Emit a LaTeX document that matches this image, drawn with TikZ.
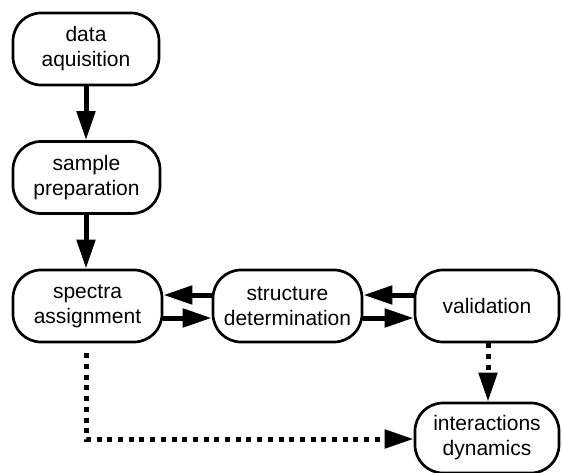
\documentclass[tikz,border=0pt]{standalone}
\usepackage{fontspec}
\setmainfont{Liberation Sans}
\usetikzlibrary{arrows.meta}

\tikzset{
  stage/.style={draw, line width=2.7pt, rounded corners=28pt, align=center,
    inner sep=0pt, minimum height=72pt,
    font=\fontsize{21}{25}\selectfont},
  flow/.style={line width=5pt, -{Triangle[length=29pt,width=18pt]}},
  optional/.style={flow, dash pattern=on 5pt off 5.7pt}
}

\begin{document}
\begin{tikzpicture}[x=1pt, y=-1pt]
  \useasboundingbox (0,0) rectangle (562,473);

  % processing stages
  \node[stage, minimum width=146pt] (acq)  at (86,49)    {data\\aquisition};
  \node[stage, minimum width=147pt] (prep) at (86.5,177.5) {sample\\preparation};
  \node[stage, minimum width=149pt] (assign) at (87.5,306) {spectra\\assignment};
  \node[stage, minimum width=149pt] (struct) at (287.5,306) {structure\\determination};
  \node[stage, minimum width=144pt] (valid) at (487,306)  {validation};
  \node[stage, minimum width=144pt, minimum height=70pt] (inter) at (487,438) {interactions\\dynamics};

  % main pipeline
  \draw[flow] (acq.south -| 86,0) -- (prep.north -| 86,0);
  \draw[flow] (prep.south -| 86,0) -- (assign.north -| 86,0);

  % iterative refinement loops
  \draw[flow] (struct.west |- 0,295) -- (assign.east |- 0,295);
  \draw[flow] (assign.east |- 0,318) -- (struct.west |- 0,318);
  \draw[flow] (valid.west |- 0,295) -- (struct.east |- 0,295);
  \draw[flow] (struct.east |- 0,318) -- (valid.west |- 0,318);

  % optional follow-up studies
  \coordinate (turn) at (86,439);
  \draw[optional, shorten <=10pt] (assign.south -| 86,0) -- (turn) -- (inter.west |- turn);
  \draw[optional] (valid.south -| 488,0) -- (inter.north -| 488,0);
\end{tikzpicture}
\end{document}
